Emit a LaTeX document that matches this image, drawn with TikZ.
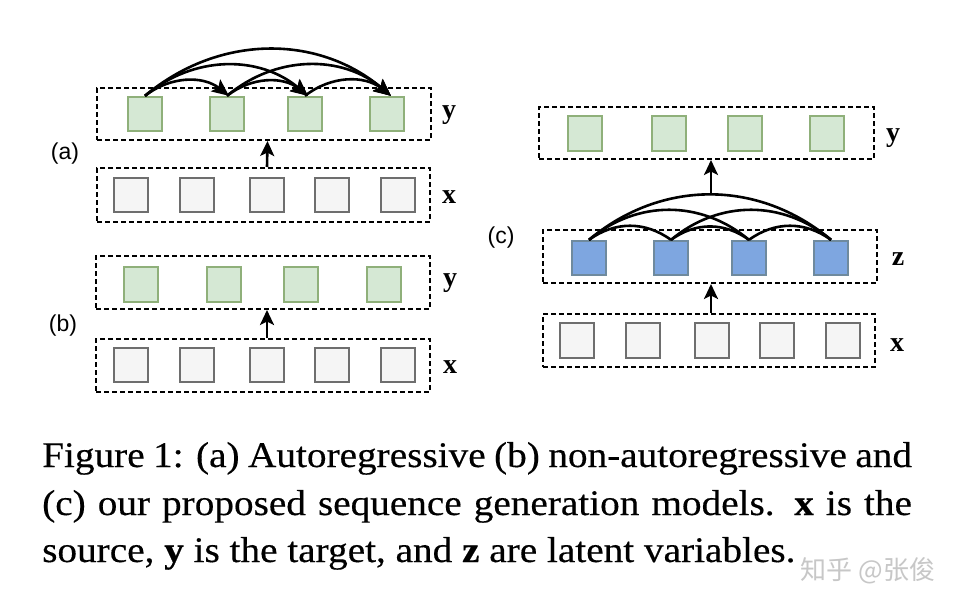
\documentclass[tikz,border=0pt]{standalone}
\usepackage{fontspec}
\setmainfont{Liberation Serif}
\newfontfamily\capfont{Liberation Serif}[FakeBold=0.35]
\newfontfamily\labsans{Liberation Sans}
\newfontfamily\cjkfont{Noto Sans CJK SC}
\usetikzlibrary{arrows.meta}
\definecolor{gfill}{HTML}{D5E8D4}
\definecolor{gline}{HTML}{8FB07A}
\definecolor{kfill}{HTML}{F5F5F5}
\definecolor{kline}{HTML}{6E6E6E}
\definecolor{bfill}{HTML}{7EA6E0}
\definecolor{bline}{HTML}{6F8A9E}
\tikzset{
  dbox/.style={draw=black, line width=2pt, dash pattern=on 5pt off 3pt, minimum height=52pt, inner sep=0pt},
  sq/.style={line width=1.8pt, minimum size=34.5pt, inner sep=0pt},
  gsq/.style={sq, draw=gline, fill=gfill},
  ksq/.style={sq, draw=kline, fill=kfill},
  bsq/.style={sq, draw=bline, fill=bfill},
  arcline/.style={line width=2.6pt},
  arcarrow/.style={line width=2.6pt, -{Stealth[length=17pt,width=15pt,inset=3.5pt]}},
  uparrow/.style={line width=2.6pt, -{Stealth[length=15pt,width=14pt,inset=3.5pt]}},
  varlab/.style={anchor=base, font=\fontsize{28}{28}\selectfont\bfseries, inner sep=0pt},
  panlab/.style={font=\labsans\fontsize{23}{23}\selectfont, inner sep=0pt},
  capline/.style={anchor=base west, inner sep=0pt, font=\capfont\fontsize{36}{47}\selectfont}
}
\begin{document}
\begin{tikzpicture}[x=1pt,y=-1pt]
\useasboundingbox[fill=white] (0,0) rectangle (970,608);

% ---------- panel (a) ----------
\node[dbox, minimum width=334pt] (ya) at (264,114) {};
\node[dbox, minimum width=333pt, minimum height=54pt] (xa) at (263.5,195) {};
\foreach \i/\x in {1/145,2/227,3/305,4/387} \node[gsq] (a\i) at (\x,114) {};
\foreach \i/\x in {1/131,2/197,3/267,4/332,5/398} \node[ksq] (ax\i) at (\x,195) {};
\node[varlab] (ylaba) at (449,118) {y};
\node[varlab] (xlaba) at (449,203) {x};
\node[panlab] (laba) at (65,154) {(a)};
\draw[uparrow] ([xshift=3.5pt]xa.north) -- ([xshift=3.5pt]ya.south);
\draw[arcarrow] (a1.north) to[bend left=38] ([xshift=2pt]a2.north);
\draw[arcarrow] (a1.north) to[bend left=40] ([xshift=3pt]a3.north);
\draw[arcarrow] (a1.north) to[bend left=40] ([xshift=4pt]a4.north);
\draw[arcarrow] (a2.north) to[bend left=38] ([xshift=3pt]a3.north);
\draw[arcarrow] (a2.north) to[bend left=40] ([xshift=4pt]a4.north);
\draw[arcarrow] (a3.north) to[bend left=38] ([xshift=4pt]a4.north);

% ---------- panel (b) ----------
\node[dbox, minimum width=334pt, minimum height=53pt] (yb) at (263,282.5) {};
\node[dbox, minimum width=334pt, minimum height=53pt] (xb) at (263,365.5) {};
\foreach \i/\x in {1/141,2/224,3/301,4/384} \node[gsq] (b\i) at (\x,284.5) {};
\foreach \i/\x in {1/131,2/197,3/267,4/332,5/398} \node[ksq] (bx\i) at (\x,365) {};
\node[varlab] (ylabb) at (450,286) {y};
\node[varlab] (xlabb) at (450,373) {x};
\node[panlab] (labb) at (63,326) {(b)};
\draw[uparrow] ([xshift=4pt]xb.north) -- ([xshift=4pt]yb.south);

% ---------- panel (c) ----------
\node[dbox, minimum width=335pt] (yc) at (706.5,133) {};
\node[dbox, minimum width=334pt, minimum height=53pt] (zc) at (710,256.5) {};
\node[dbox, minimum width=332pt, minimum height=53pt] (xc) at (709,340.5) {};
\foreach \i/\x in {1/585,2/669,3/745,4/827} \node[gsq] (c\i) at (\x,133.5) {};
\foreach \i/\x in {1/589,2/671,3/749,4/831} \node[bsq] (z\i) at (\x,258) {};
\foreach \i/\x in {1/577,2/643,3/712,4/777,5/843} \node[ksq] (cx\i) at (\x,340.5) {};
\node[varlab] (ylabc) at (893,141) {y};
\node[varlab] (zlabc) at (898,265) {z};
\node[varlab] (xlabc) at (897,351) {x};
\node[panlab] (labc) at (501,238) {(c)};
\draw[arcline] (z1.north) to[bend left=36] (z2.north);
\draw[arcline] (z2.north) to[bend left=36] (z3.north);
\draw[arcline] (z3.north) to[bend left=36] (z4.north);
\draw[arcline] (z1.north) to[bend left=40] (z3.north);
\draw[arcline] (z2.north) to[bend left=40] (z4.north);
\draw[arcline] (z1.north) to[bend left=40] (z4.north);
\coordinate (ztop) at (711,194.5);
\draw[uparrow] ([xshift=1pt]zc.south |- xc.north) -- ([xshift=1pt]zc.south);
\draw[uparrow] (ztop) -- (ztop |- yc.south);

% ---------- caption ----------
\node[capline] (cap1) at (42,467) {\scalebox{1.09}[1]{\makebox[798pt][s]{Figure 1: (a) Autoregressive (b) non-autoregressive and}}};
\node[capline] (cap2) at (42,515) {\scalebox{1.09}[1]{\makebox[798pt][s]{(c) our proposed sequence generation models. \textbf{x} is the}}};
\node[capline] (cap3) at (42,562) {\scalebox{1.09}[1]{source, \textbf{y} is the target, and \textbf{z} are latent variables.}};
\node[font=\cjkfont\fontsize{26}{26}\selectfont, text=black!22, inner sep=0pt] (wm) at (868,571) {知乎 @张俊};
\end{tikzpicture}
\end{document}
